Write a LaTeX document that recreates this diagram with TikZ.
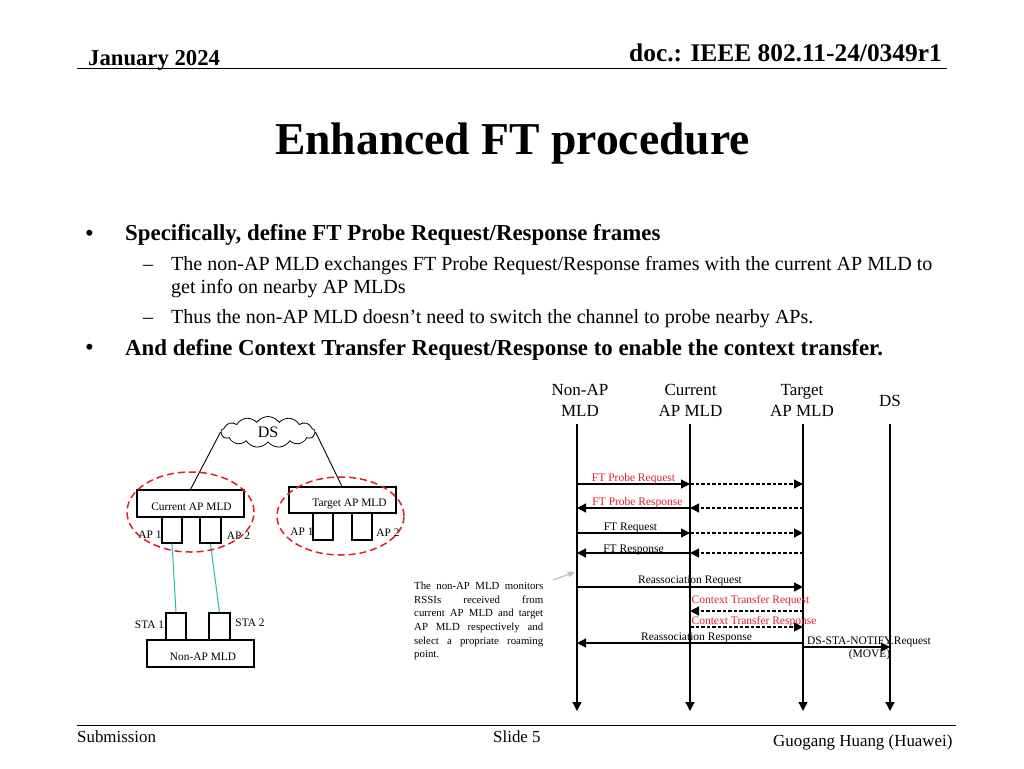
\documentclass[tikz,border=0pt]{standalone}
\usepackage{fontspec}
\setmainfont{Liberation Serif}
\usetikzlibrary{arrows.meta,shapes.symbols,shapes.geometric}
\definecolor{redtxt}{RGB}{226,30,50}
\definecolor{dashred}{RGB}{224,32,40}
\definecolor{linkgreen}{RGB}{40,190,150}
\newcommand{\fs}[1]{\fontsize{#1}{#1}\selectfont}
\tikzset{
 x=1pt,y=-1pt,
 txt/.style={inner sep=0pt,anchor=base west,text=black},
 foot/.style={txt,font=\fs{16.9}},
 mainb/.style={txt,font=\fs{22.85}\bfseries},
 dotb/.style={txt,font=\fs{25}},
 subb/.style={txt,font=\fs{20.05}},
 boxn/.style={draw=black,line width=1.2pt,inner sep=0pt},
 small/.style={inner sep=0pt,font=\fs{11.4},text=black},
 lane/.style={font=\fs{17},inner sep=0pt,align=center},
 msglabel/.style={inner sep=0pt,font=\fs{11.5},text=black},
 redlabel/.style={msglabel,text=redtxt},
 life/.style={line width=1.3pt,-{Triangle[length=9pt,width=9pt]}},
 msg/.style={line width=1.2pt,-{Triangle[length=9pt,width=9pt]}},
 dmsg/.style={msg,dash pattern=on 3.5pt off 2pt},
 ring/.style={draw=dashred,line width=1.5pt,dash pattern=on 7pt off 4pt},
 radio/.style={draw=linkgreen,line width=1pt},
 wire/.style={draw=black,line width=0.9pt},
}
\begin{document}
\begin{tikzpicture}
\useasboundingbox (0,0) rectangle (1024,768);
\fill[white] (0,0) rectangle (1024,768);
% header
\node[txt,font=\fs{22.7}\bfseries] (date) at (88,65) {January 2024};
\node[txt,font=\fs{25.4}\bfseries] (doc) at (629,62) {doc.: IEEE 802.11-24/0349r1};
\coordinate (hl) at (77,68); \coordinate (hr) at (947,68);
\draw[line width=1pt] (hl) -- (hr);
\node[txt,font=\fs{45.6}\bfseries] (title) at (275,154) {Enhanced FT procedure};
% bullets
\node[dotb] (b1) at (85,241) {•};
\node[mainb] (t1) at (125,240.5) {Specifically, define FT Probe Request/Response frames};
\node[subb] (d1) at (143,270.5) {–};
\node[subb] (t2) at (171,270.5) {The non-AP MLD exchanges FT Probe Request/Response frames with the current AP MLD to};
\node[subb] (t2b) at (171,293.5) {get info on nearby AP MLDs};
\node[subb] (d2) at (143,323) {–};
\node[subb] (t3) at (171,323) {Thus the non-AP MLD doesn’t need to switch the channel to probe nearby APs.};
\node[dotb] (b2) at (85,355) {•};
\node[mainb] (t4) at (125,355) {And define Context Transfer Request/Response to enable the context transfer.};
% left network
\node[draw=black,line width=0.8pt,cloud,cloud puffs=13,cloud puff arc=110,aspect=3.2,minimum width=94pt,minimum height=31pt,inner sep=0pt,font=\fs{16}] (ds) at (268,432) {DS};
\node[boxn,minimum width=107pt,minimum height=27pt] (cur) at (190.5,503.5) {};
\node[small] (curl) at (191.5,507) {Current AP MLD};
\node[boxn,minimum width=20pt,minimum height=26pt] (c1) at (172,530) {};
\node[boxn,minimum width=21pt,minimum height=26pt] (c2) at (210.5,530) {};
\node[boxn,minimum width=107pt,minimum height=26pt] (tar) at (342.5,500) {};
\node[small] (tarl) at (349.5,503.5) {Target AP MLD};
\node[boxn,minimum width=20pt,minimum height=27pt] (t1b) at (323,526.5) {};
\node[boxn,minimum width=20pt,minimum height=27pt] (t2x) at (362,526.5) {};
\node[boxn,minimum width=107pt,minimum height=27pt] (non) at (200.5,653.5) {};
\node[small] (nonl) at (203,657) {Non-AP MLD};
\node[boxn,minimum width=20pt,minimum height=27pt] (s1) at (176,626.5) {};
\node[boxn,minimum width=21pt,minimum height=27pt] (s2) at (219.5,626.5) {};
\node[small] (lc1) at (150,535) {AP 1};
\node[small] (lc2) at (238.5,536) {AP 2};
\node[small] (lt1) at (302,532) {AP 1};
\node[small] (lt2) at (388,533) {AP 2};
\node[small] (ls1) at (149.5,625) {STA 1};
\node[small] (ls2) at (250,623) {STA 2};
\draw[wire] (ds.west) -- (cur.north);
\draw[wire] (ds.east) -- ([xshift=-0.5pt]tar.north);
\draw[radio] (c1.south) -- (s1.north);
\draw[radio] (c2.south) -- (s2.north);
\node[ring,ellipse,minimum width=127pt,minimum height=80pt,inner sep=0pt] (rc) at (190.5,512) {};
\node[ring,ellipse,minimum width=127pt,minimum height=78pt,inner sep=0pt] (rt) at (340.5,516) {};
% note
\node[anchor=north west,inner sep=0pt,font=\fs{10.8},align=left] (note) at (414,582) {%
\hbox to 129pt{The non-AP MLD monitors}\\[2.8pt]
\hbox to 129pt{RSSIs\hfill received\hfill from}\\[2.8pt]
\hbox to 129pt{current AP MLD and target}\\[2.8pt]
\hbox to 129pt{AP\hfill MLD\hfill respectively\hfill and}\\[2.8pt]
\hbox to 129pt{select\hfill a\hfill propriate\hfill roaming}\\[2.8pt]
\hbox to 129pt{point.}};
\coordinate (notetip) at (575,572);
\coordinate (notetail) at (553,580);
\draw[draw=black!25,line width=1.2pt,-{Triangle[length=7pt,width=6pt]}] (notetail) -- (notetip);
% lanes
\node[lane] (la) at (580,400.5) {Non-AP\\[4pt]MLD};
\node[lane] (lb) at (690.5,400.5) {Current\\[4pt]AP MLD};
\node[lane] (lc) at (802,400.5) {Target\\[4pt]AP MLD};
\node[lane] (ld) at (890,401) {DS};
\foreach \n/\x in {a/577,b/690,c/803,d/890}{
 \coordinate (top\n) at (\x,424);
 \coordinate (bot\n) at (\x,711);
 \draw[life] (top\n) -- (bot\n);
 \foreach \m/\y in {p/484,q/508,r/533,s/553,u/587,v/611,w/627,x/643,y/647}{
  \coordinate (\n\m) at (\x,\y);
 }
}
\draw[msg] (ap) -- (bp);
\draw[dmsg] (bp) -- (cp);
\draw[msg] (bq) -- (aq);
\draw[dmsg] (cq) -- (bq);
\draw[msg] (ar) -- (br);
\draw[dmsg] (br) -- (cr);
\draw[msg] (bs) -- (as);
\draw[dmsg] (cs) -- (bs);
\draw[msg] (au) -- (cu);
\draw[dmsg] (cv) -- (bv);
\draw[dmsg] (bw) -- (cw);
\draw[msg] (cx) -- (ax);
\draw[msg] (cy) -- (dy);
\node[redlabel] (m1) at (633.5,478.5) {FT Probe Request};
\node[redlabel] (m2) at (637.5,503) {FT Probe Response};
\node[msglabel] (m3) at (630.5,527.5) {FT Request};
\node[msglabel] (m4) at (633.5,549.5) {FT Response};
\node[msglabel] (m5) at (690,580.5) {Reassociation Request};
\node[redlabel] (m6) at (750.5,600.5) {Context Transfer Request};
\node[redlabel] (m7) at (754,622) {Context Transfer Response};
\node[msglabel] (m8) at (696.5,637.5) {Reassociation Response};
\node[msglabel] (m9) at (869,641.5) {DS-STA-NOTIFY.Request};
\node[msglabel] (m10) at (869.5,654.5) {(MOVE)};
% footer
\coordinate (fl) at (77,725); \coordinate (fr) at (956,725);
\draw[line width=1pt] (fl) -- (fr);
\node[foot] (sub) at (77,742) {Submission};
\node[foot] (slide) at (493,742) {Slide 5};
\node[foot] (auth) at (773,746) {Guogang Huang (Huawei)};
\end{tikzpicture}
\end{document}
